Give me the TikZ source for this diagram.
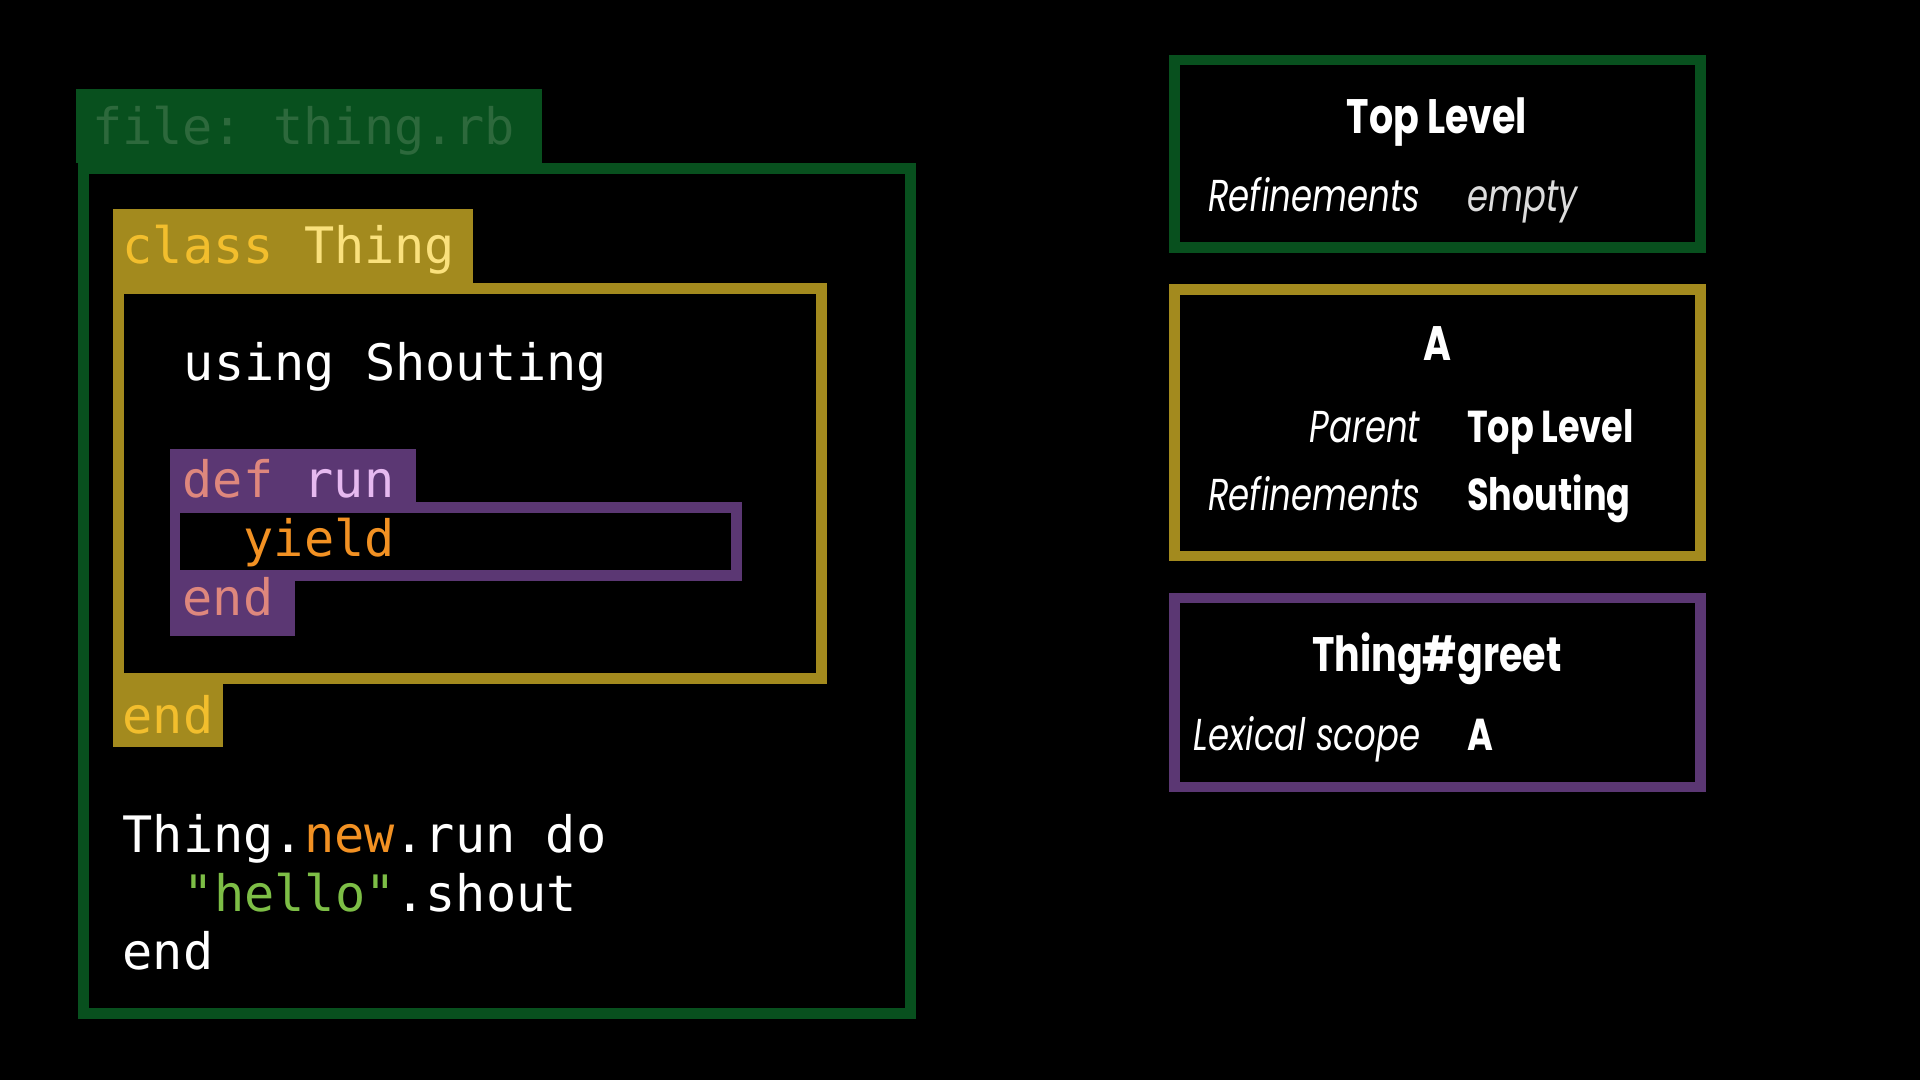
\documentclass[tikz,border=0pt]{standalone}
\usepackage{fontspec}
\frenchspacing
\newfontfamily\code{DejaVu Sans Mono}
\newfontfamily\brandb[FakeStretch=0.785]{Poppins}
\newfontfamily\brandi[FakeStretch=0.76]{Poppins}
\definecolor{fgreen}{RGB}{8,80,30}
\definecolor{filetxt}{RGB}{45,105,60}
\definecolor{olive}{RGB}{163,138,30}
\definecolor{classkw}{RGB}{242,190,45}
\definecolor{thingc}{RGB}{250,225,125}
\definecolor{mpurple}{RGB}{91,55,115}
\definecolor{defkw}{RGB}{222,135,125}
\definecolor{runc}{RGB}{230,185,240}
\definecolor{orangec}{RGB}{242,145,35}
\definecolor{strgreen}{RGB}{125,190,70}
\definecolor{lgray}{RGB}{220,220,220}
\tikzset{
  codetxt/.style={anchor=base west, inner sep=0pt, text=white, font=\code\fontsize{41}{48}\selectfont},
  head/.style={anchor=base, inner sep=0pt, text=white, font=\brandb\bfseries\fontsize{39.5}{44}\selectfont},
  lbl/.style={anchor=base east, inner sep=0pt, text=white, font=\brandi\itshape\fontsize{36.5}{42}\selectfont},
  val/.style={anchor=base west, inner sep=0pt, text=white, font=\brandb\bfseries\fontsize{36.5}{42}\selectfont},
  ival/.style={anchor=base west, inner sep=0pt, text=lgray, font=\brandi\itshape\fontsize{36.5}{42}\selectfont},
  frame/.style={draw, line width=9pt, fill=none},
}
\begin{document}
\begin{tikzpicture}[x=1pt,y=-1pt]
\fill[black] (0,0) rectangle (1568,882);
\useasboundingbox (0,0) rectangle (1568,882);
% left: file
\fill[fgreen] (62,73) rectangle (443,133);
\draw[frame, draw=fgreen] (68.5,137.5) rectangle (743.5,827.5);
\node[codetxt, text=filetxt] (file) at (75,118.3) {file: thing.rb};
% class
\fill[olive] (92.5,171) rectangle (386,232);
\draw[frame, draw=olive] (97,236) rectangle (671,554);
\node[codetxt] (cls) at (100,215.4) {\color{classkw}class \color{thingc}Thing};
\node[codetxt] (using) at (150,311) {using Shouting};
% def run
\fill[mpurple] (138.5,367) rectangle (340,410.5);
\draw[frame, line width=8.6pt, draw=mpurple] (143,414.5) rectangle (601.5,470);
\fill[mpurple] (138.5,474) rectangle (241,519);
\node[codetxt] (def) at (149,406.6) {\color{defkw}def \color{runc}run};
\node[codetxt, text=orangec] (yield) at (198.8,454.7) {yield};
\node[codetxt, text=defkw] (dend) at (149,502.8) {end};
% class end
\fill[olive] (92.5,559) rectangle (182.5,610);
\node[codetxt, text=classkw] (cend) at (100,599) {end};
% call
\node[codetxt] (call) at (100,696) {Thing.{\color{orangec}new}.run do};
\node[codetxt] (hello) at (150,744) {{\color{strgreen}"hello"}.shout};
\node[codetxt] (bend) at (100,792) {end};
% right boxes
\draw[frame, line width=8.5pt, draw=fgreen] (959,49.2) rectangle (1388.6,202);
\draw[frame, line width=8.5pt, draw=olive] (959,236.3) rectangle (1388.6,454);
\draw[frame, line width=8.5pt, draw=mpurple] (959,488.3) rectangle (1388.6,642.8);
\node[head] (h1) at (1173.5,109) {Top Level};
\node[lbl] (r1) at (1160,173) {Refinements};
\node[ival] (e1) at (1198,173) {empty};
\node[head] (h2) at (1173.8,294.8) {A};
\node[lbl] (p2) at (1160,361) {Parent};
\node[val] (tl2) at (1198,361) {Top Level};
\node[lbl] (r2) at (1160,416.5) {Refinements};
\node[val] (s2) at (1198,416.5) {Shouting};
\node[head] (h3) at (1173.5,548) {Thing\#greet};
\node[lbl] (l3) at (1160,613) {Lexical scope};
\node[val] (a3) at (1198,613) {A};
\end{tikzpicture}
\end{document}
